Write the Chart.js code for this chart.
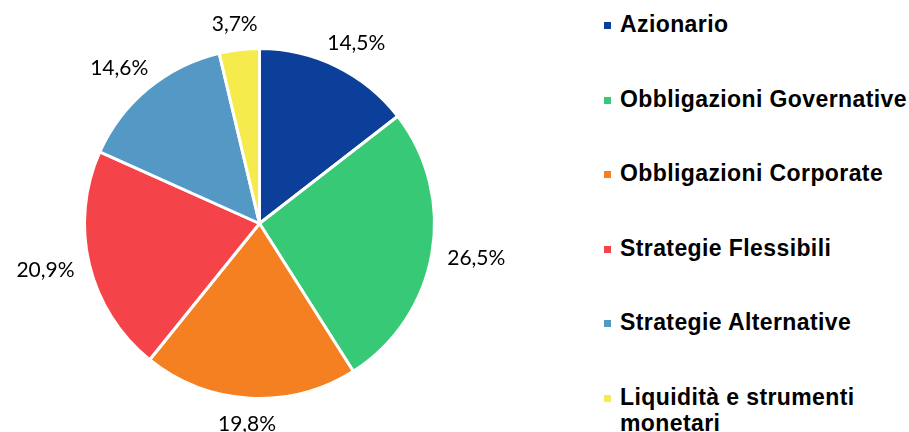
<!DOCTYPE html>
<html>
<head>
<meta charset="utf-8">
<script src="https://cdn.jsdelivr.net/npm/chart.js@4/dist/chart.umd.min.js"></script>
<style>
  body { margin: 0; background: #fff; }
  #wrap { position: relative; width: 909px; height: 432px; overflow: hidden; }
  #pieBox { position: absolute; left: 0; top: 0; width: 519px; height: 432px; }
  #legenda { position: absolute; left: 604px; top: 11px; margin: 0; padding: 0; list-style: none;
    font-family: "Liberation Sans", Arial, sans-serif; font-weight: bold; font-size: 23px;
    line-height: 26px; letter-spacing: 0.4px; color: #000; }
  #legenda li { position: relative; padding-left: 16px; width: 289px; margin-bottom: 48.5px; }
  #legenda li span.q { position: absolute; left: 0; top: 11px; width: 7px; height: 7px; }
</style>
</head>
<body>
<div id="wrap">
  <div id="pieBox"><canvas id="torta"></canvas></div>
  <ul id="legenda"></ul>
</div>
<script>
const categorie = ['Azionario', 'Obbligazioni Governative', 'Obbligazioni Corporate',
  'Strategie Flessibili', 'Strategie Alternative', 'Liquidità e strumenti monetari'];
const percentuali = [14.5, 26.5, 19.8, 20.9, 14.6, 3.7];
const colori = ['#0b3f99', '#37c975', '#f58021', '#f44349', '#5499c5', '#f5eb4d'];

// legenda in HTML, cosi' l'ultima voce va a capo come nell'originale
const ul = document.getElementById('legenda');
categorie.forEach(function (nome, i) {
  const li = document.createElement('li');
  const q = document.createElement('span');
  q.className = 'q';
  q.style.background = colori[i];
  li.appendChild(q);
  li.appendChild(document.createTextNode(nome));
  ul.appendChild(li);
});

// etichette percentuali fuori dalla torta
const etichetteFuori = {
  id: 'etichetteFuori',
  afterDatasetsDraw(chart) {
    const ctx = chart.ctx;
    const meta = chart.getDatasetMeta(0);
    ctx.save();
    ctx.font = '21px Lato, "Open Sans", sans-serif';
    ctx.fillStyle = '#000';
    ctx.textAlign = 'center';
    ctx.textBaseline = 'middle';
    meta.data.forEach(function (arc, i) {
      const p = arc.getProps(['x', 'y', 'startAngle', 'endAngle', 'outerRadius'], true);
      const mid = (p.startAngle + p.endAngle) / 2;
      const ux = Math.cos(mid), uy = Math.sin(mid);
      const testo = percentuali[i].toFixed(1).replace('.', ',') + '%';
      const w = ctx.measureText(testo).width;
      const h = 20;
      const r = p.outerRadius + 16;
      const cx = p.x + ux * r + ux * w / 2;
      const cy = p.y + uy * r + uy * h / 2;
      ctx.fillText(testo, cx, cy);
    });
    ctx.restore();
  }
};

new Chart(document.getElementById('torta'), {
  type: 'pie',
  data: {
    labels: categorie,
    datasets: [{
      data: percentuali,
      backgroundColor: colori,
      borderColor: '#ffffff',
      borderWidth: 3
    }]
  },
  options: {
    responsive: true,
    maintainAspectRatio: false,
    animation: false,
    layout: { padding: { top: 47, bottom: 32, left: 0, right: 0 } },
    plugins: {
      legend: { display: false },
      tooltip: { enabled: false }
    }
  },
  plugins: [etichetteFuori]
});
</script>
</body>
</html>
